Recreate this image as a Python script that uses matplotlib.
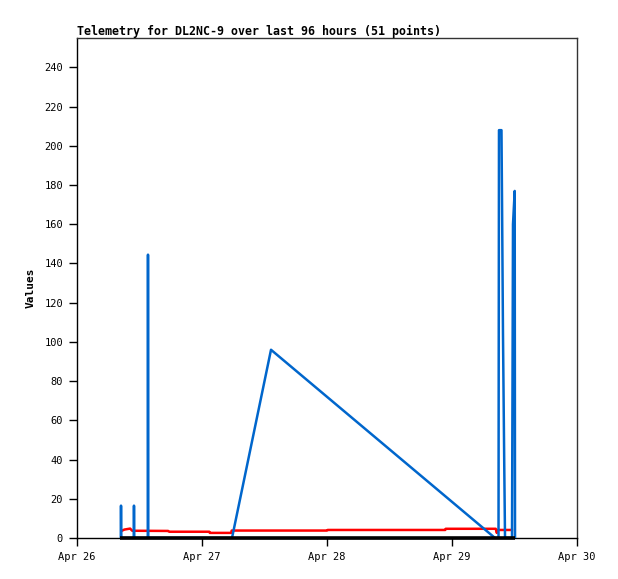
import matplotlib
matplotlib.use("Agg")
import matplotlib.pyplot as plt

# hours since Apr 26 00:00
blue_t = [8.44, 8.45, 8.47, 10.93, 10.94, 10.96, 13.62, 13.63, 13.65, 29.76, 37.25,
          80.26, 80.93, 81.02, 81.50, 81.60, 81.79, 82.04, 82.18, 83.52, 83.62, 83.71,
          84.04, 84.10]
blue_v = [0, 16.5, 0, 0, 16.5, 0, 0, 144.5, 0, 0, 96,
          0, 0, 208, 208, 174, 104, 35, 0, 0, 80, 160,
          177, 0]

red_t = [8.6, 9.1, 10.2, 10.6, 17.5, 17.7, 25.4, 25.5, 29.6, 29.7, 48.0, 48.1,
         70.7, 70.8, 80.4, 80.6, 80.8, 83.5]
red_v = [3.7, 4.3, 4.8, 3.7, 3.6, 3.2, 3.2, 2.6, 2.6, 3.8, 3.8, 4.1,
         4.1, 4.7, 4.7, 2.6, 4.1, 4.1]

black_t = [8.3, 84.1]
black_v = [0, 0]

tick_hours = [0, 24, 48, 72, 96]
tick_labels = ["Apr 26", "Apr 27", "Apr 28", "Apr 29", "Apr 30"]
y_ticks = list(range(0, 260, 20))

mono = "DejaVu Sans Mono"

fig = plt.figure(figsize=(6.18, 5.79), dpi=100)
ax = fig.add_axes([77 / 618, 41 / 579, 500 / 618, 500 / 579])

ax.plot(red_t, red_v, color="#ff0000", lw=1.8, zorder=2)
ax.plot(blue_t, blue_v, color="#0066cc", lw=1.8, zorder=3)
ax.plot(black_t, black_v, color="black", lw=2.6, zorder=4, solid_capstyle="butt", clip_on=False)

ax.set_xlim(0, 96)
ax.set_ylim(0, 255)
ax.set_xticks(tick_hours)
ax.set_xticklabels(tick_labels, fontfamily=mono, fontsize=7.5)
ax.set_yticks(y_ticks)
ax.set_yticklabels([str(v) for v in y_ticks], fontfamily=mono, fontsize=7.5)
ax.tick_params(direction="out", length=6, width=1, color="black", pad=4)

for s in ax.spines.values():
    s.set_color("#333333")
    s.set_linewidth(1)
ax.spines["bottom"].set_color("black")
ax.spines["left"].set_color("black")

ax.set_ylabel("Values", fontfamily=mono, fontsize=8, fontweight="bold", labelpad=6)
ax.set_title("Telemetry for DL2NC-9 over last 96 hours (51 points)", fontfamily=mono,
             fontsize=8.4, fontweight="bold", loc="left", pad=2)

fig.savefig("out.png", dpi=100)
